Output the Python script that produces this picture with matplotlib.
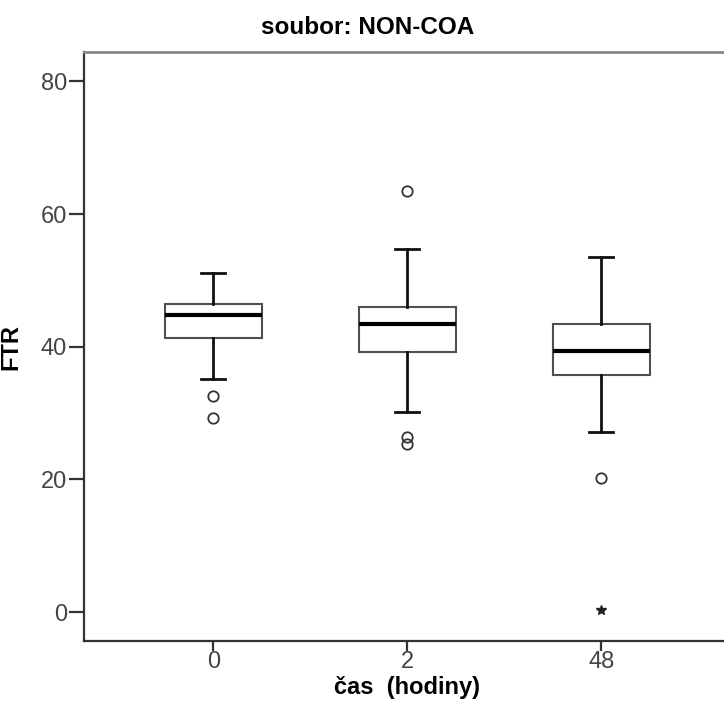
import numpy as np
import matplotlib
matplotlib.use('Agg')
import matplotlib.pyplot as plt

# boxplot summary (FTR by time in hours)
groups = ['0', '2', '48']
whislo = [35.1, 30.1, 27.1]
q1 = [41.3, 39.2, 35.8]
med = [44.8, 43.4, 39.4]
q3 = [46.4, 46.0, 43.4]
whishi = [51.1, 54.7, 53.5]
outliers = [[32.6, 29.3], [63.5, 26.4, 25.4], [20.2]]
extremes = [[], [], [0.3]]

plt.rcParams['font.family'] = ['Liberation Sans', 'DejaVu Sans']

fig = plt.figure(figsize=(7.24, 7.23), dpi=100)
ax_w = 1.0095 - 83.7/724
ax_h = (641-52.3)/723
ax = fig.add_axes([83.7/724, (723-641)/723, ax_w, ax_h])

stats = []
for i, g in enumerate(groups):
    stats.append(dict(label=g, whislo=whislo[i], q1=q1[i], med=med[i],
                      q3=q3[i], whishi=whishi[i], fliers=outliers[i]))

pos = np.arange(len(groups))
ax.bxp(stats, positions=pos, widths=0.5, capwidths=0.125, patch_artist=True,
       boxprops=dict(facecolor='white', edgecolor='#505050', linewidth=1.5),
       medianprops=dict(color='black', linewidth=3.0),
       whiskerprops=dict(color='#111111', linewidth=2.0),
       capprops=dict(color='#111111', linewidth=2.0),
       flierprops=dict(marker='o', markersize=7.5, markerfacecolor='none',
                       markeredgecolor='#333333', markeredgewidth=1.3))
for i, ex in enumerate(extremes):
    if ex:
        ax.plot([pos[i]]*len(ex), ex, linestyle='none', marker='*',
                markersize=7, color='#222222')

ax.set_xlim(-0.668, 2.668)
ax.set_ylim(-4.37, 84.4)
ax.set_yticks([0, 20, 40, 60, 80])
ax.set_xticks(pos)
ax.set_xticklabels(groups)

for s in ['left', 'bottom']:
    ax.spines[s].set_color('#333333')
    ax.spines[s].set_linewidth(1.6)
ax.spines['top'].set_color('#888888')
ax.spines['top'].set_linewidth(2.0)
ax.spines['right'].set_visible(False)

ax.tick_params(axis='both', labelsize=17, colors='#333333', labelcolor='#444444',
               width=1.6)
ax.tick_params(axis='y', length=11, pad=1)
ax.tick_params(axis='x', length=7, pad=0.5)

fig.text(368/724, 1 - 28/723, 'soubor: NON-COA', fontsize=17.5, fontweight='bold',
         ha='center', va='center')
ax.set_ylabel('FTR', fontsize=17, fontweight='bold')
ax.yaxis.set_label_coords((22.5-83.7)/(ax_w*724), 0.5)
ax.set_xlabel('čas  (hodiny)', fontsize=17, fontweight='bold', labelpad=2)

fig.savefig('out.png', dpi=100)
